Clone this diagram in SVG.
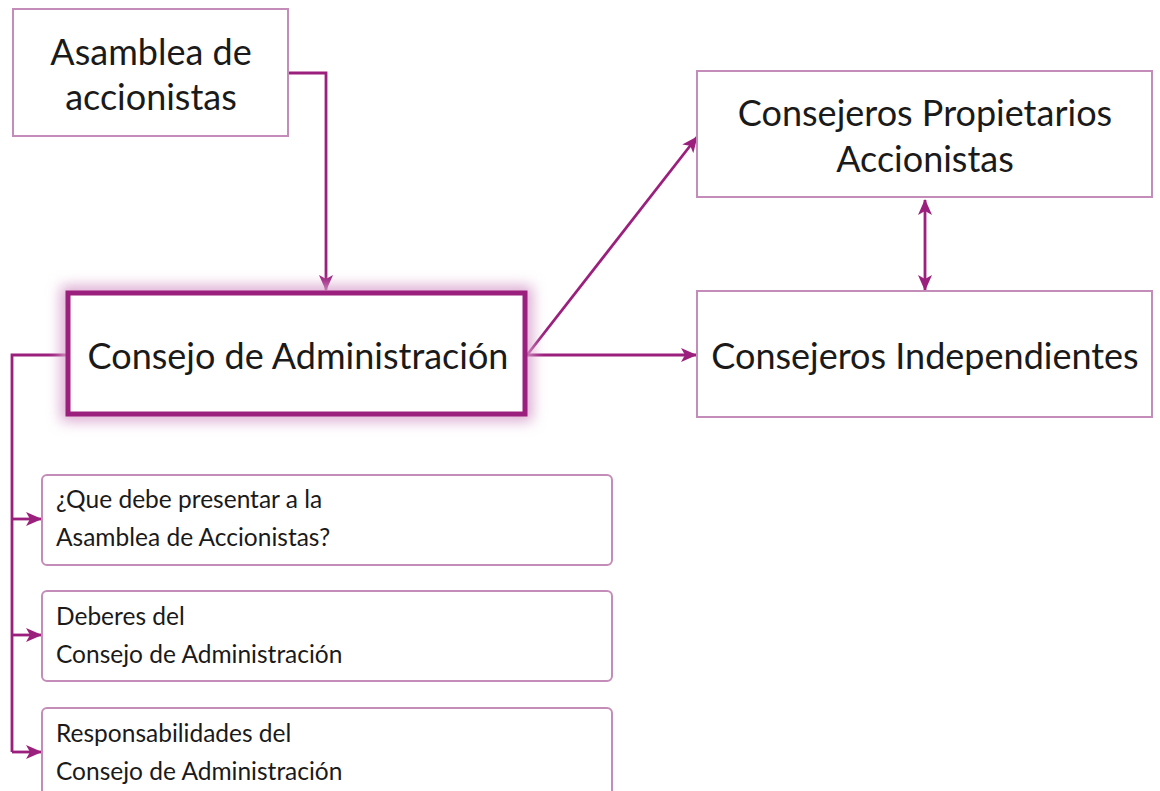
<svg xmlns="http://www.w3.org/2000/svg" width="1160" height="791" viewBox="0 0 1160 791">
<defs>
<style>
.box{fill:#fff;stroke:#c48cb8;stroke-width:2}
.sbox{fill:#fff;stroke:#c48cb8;stroke-width:2}
.main{fill:#fff;stroke:#9b1f7c;stroke-width:5}
.t{font-family:Lato,"Open Sans",sans-serif;fill:#1a1a1a}
.big{font-size:36px}
.small{font-size:24.5px}
.c{fill:none;stroke:#9b1f7c;stroke-width:2.8}
</style>
<marker id="ah" viewBox="0 0 16 14" refX="15" refY="7" markerWidth="16" markerHeight="14" markerUnits="userSpaceOnUse" orient="auto-start-reverse">
<path d="M0,0 L16,7 L0,14 L4,7 Z" fill="#9b1f7c"/>
</marker>
<filter id="glow" x="-20%" y="-40%" width="140%" height="180%">
<feGaussianBlur stdDeviation="7"/>
</filter>
</defs>
<rect width="1160" height="791" fill="#fff"/>
<g id="connectors">
<path class="c" d="M288,73 H326 V290" marker-end="url(#ah)"/>
<path class="c" d="M527,355 L697,137" marker-end="url(#ah)"/>
<path class="c" d="M527,355 H696" marker-end="url(#ah)"/>
<path class="c" d="M925,200 V290" marker-start="url(#ah)" marker-end="url(#ah)"/>
<path class="c" d="M68,355 H12 V752" />
<path class="c" d="M12,519 H41" marker-end="url(#ah)"/>
<path class="c" d="M12,635 H41" marker-end="url(#ah)"/>
<path class="c" d="M12,752 H41" marker-end="url(#ah)"/>
</g>
<g id="asamblea">
<rect class="box" x="13" y="9" width="275" height="127"/>
<text class="t big" x="151" y="65" text-anchor="middle">Asamblea de</text>
<text class="t big" x="151" y="110" text-anchor="middle">accionistas</text>
</g>
<g id="consejo">
<rect x="68" y="293" width="457" height="121" fill="none" stroke="#d9a6cf" stroke-width="14" filter="url(#glow)"/>
<rect class="main" x="68" y="293" width="457" height="121"/>
<text class="t big" x="298" y="369" text-anchor="middle">Consejo de Administración</text>
</g>
<g id="propietarios">
<rect class="box" x="697" y="71" width="455" height="126"/>
<text class="t big" x="925" y="126" text-anchor="middle">Consejeros Propietarios</text>
<text class="t big" x="925" y="172" text-anchor="middle">Accionistas</text>
</g>
<g id="independientes">
<rect class="box" x="697" y="291" width="455" height="126"/>
<text class="t big" x="925" y="369" text-anchor="middle">Consejeros Independientes</text>
</g>
<g id="presentar">
<rect class="sbox" x="42" y="475" width="570" height="90" rx="5"/>
<text class="t small" x="56" y="508">¿Que debe presentar a la</text>
<text class="t small" x="56" y="546">Asamblea de Accionistas?</text>
</g>
<g id="deberes">
<rect class="sbox" x="42" y="591" width="570" height="90" rx="5"/>
<text class="t small" x="56" y="625">Deberes del</text>
<text class="t small" x="56" y="663">Consejo de Administración</text>
</g>
<g id="responsabilidades">
<rect class="sbox" x="42" y="708" width="570" height="100" rx="5"/>
<text class="t small" x="56" y="742">Responsabilidades del</text>
<text class="t small" x="56" y="780">Consejo de Administración</text>
</g>
</svg>
